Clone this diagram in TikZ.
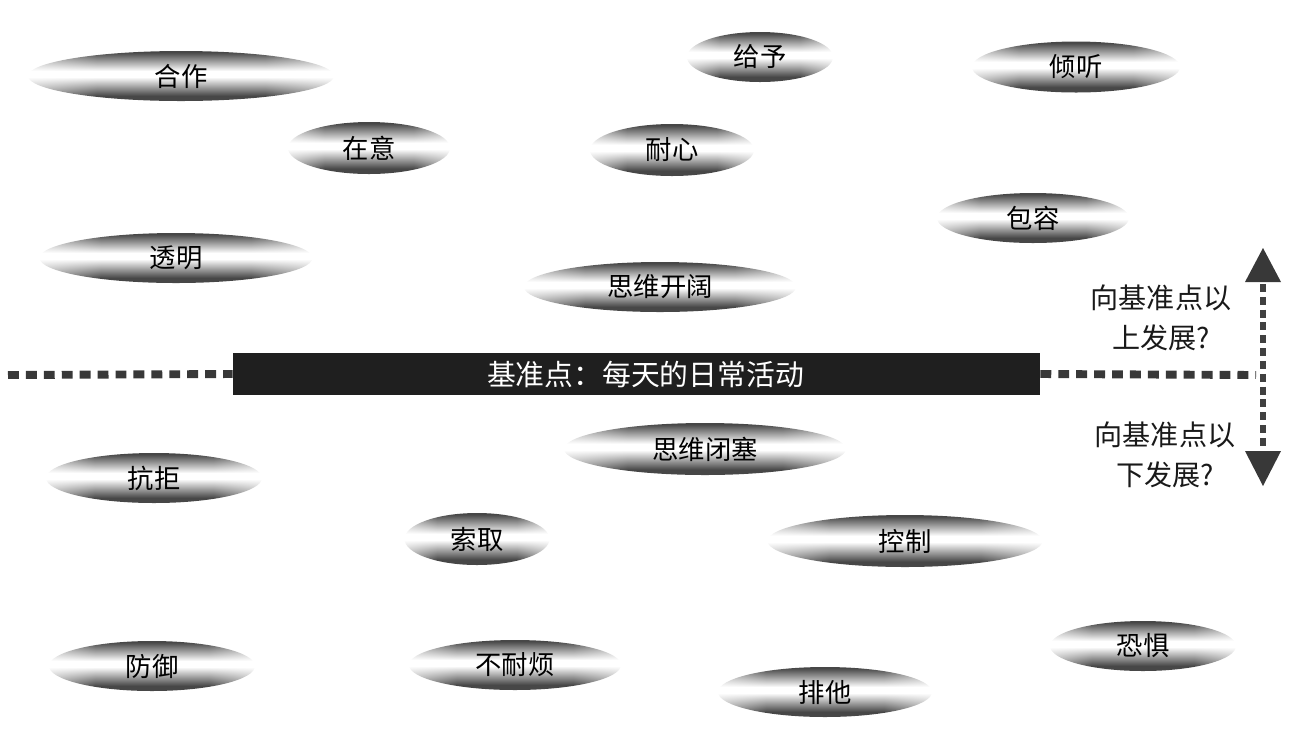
\documentclass[tikz,border=0pt]{standalone}
\usepackage{fontspec}
\setmainfont{Noto Sans CJK SC}
\usetikzlibrary{shapes.geometric}
\pgfdeclarefunctionalshading{ovalshade}{\pgfpoint{-50bp}{-50bp}}{\pgfpoint{50bp}{50bp}}{}{
25 div 0.08 sub abs 0.12 sub 0.75 div
dup 0 lt {pop 0} if dup 1 gt {pop 1} if
0.72 mul 1 exch sub
exch 25 div abs 0.55 sub 0.45 div
dup 0 lt {pop 0} if dup 1 gt {pop 1} if
0.55 mul
1 2 index sub mul add
dup dup
}
\tikzset{
  oval/.style 2 args={ellipse, inner sep=0pt, minimum width=#1*0.02cm, minimum height=#2*0.02cm,
    shading=ovalshade, font=\fontsize{15}{17}\selectfont, text=black},
  basebar/.style={rectangle, inner sep=0pt, fill=black!88, text=white,
    minimum width=807*0.02cm, minimum height=42*0.02cm, font=\fontsize{16.4}{18}\selectfont},
  hdash/.style={line width=4.5pt, black!78, dash pattern=on 6.2pt off 4pt},
  vdash/.style={line width=3.4pt, black!75, dash pattern=on 4.5pt off 2.8pt},
  tip/.style={fill=black!78},
  lbl/.style={align=center, font=\fontsize{16}{22.7}\selectfont, text=black!90}
}
\begin{document}
\begin{tikzpicture}[x=0.02cm,y=-0.02cm]
\useasboundingbox (0,0) rectangle (1296,735);
% ovals above
\node[oval={306}{50}] (hezuo) at (181,76) {合作};
\node[oval={146}{50}] (geiyu) at (760,57) {给予};
\node[oval={208}{51}] (tingting) at (1076,67) {倾听};
\node[oval={162}{52}] (zaiyi) at (369,148) {在意};
\node[oval={164}{52}] (naixin) at (672,150) {耐心};
\node[oval={192}{50}] (baorong) at (1033,218) {包容};
\node[oval={273}{50}] (touming) at (176,258) {透明};
\node[oval={272}{50}] (kaikuo) at (660,287) {思维开阔};
% base line
\node[basebar] (bar) at (636.5,374) {\hspace*{0.36cm}基准点：每天的日常活动};
\coordinate (lend) at (8,375);
\coordinate (rend) at (1256,375);
\draw[hdash] (lend) -- (bar.west);
\draw[hdash] (bar.east) -- (rend);
% vertical arrow
\coordinate (uptip) at (1263,248);
\coordinate (upl) at (1245,282);
\coordinate (upr) at (1281,282);
\coordinate (dntip) at (1263,486);
\coordinate (dnl) at (1245,451);
\coordinate (dnr) at (1281,451);
\coordinate (vtop) at (1263,284);
\coordinate (vbot) at (1263,449);
\draw[vdash] (vtop) -- (vbot);
\fill[tip] (uptip) -- (upl) -- (upr) -- cycle;
\fill[tip] (dntip) -- (dnl) -- (dnr) -- cycle;
\node[lbl] (uplbl) at (1161,318) {向基准点以\\上发展?};
\node[lbl] (dnlbl) at (1165,455) {向基准点以\\下发展?};
% ovals below
\node[oval={282}{52}] (bisai) at (705,449) {思维闭塞};
\node[oval={216}{50}] (kangju) at (154,478) {抗拒};
\node[oval={145}{52}] (suoqu) at (477,539) {索取};
\node[oval={275}{52}] (kongzhi) at (905,541) {控制};
\node[oval={206}{50}] (fangyu) at (152,666) {防御};
\node[oval={212}{50}] (bunaifan) at (515,665) {不耐烦};
\node[oval={214}{50}] (paita) at (825,692) {排他};
\node[oval={186}{50}] (kongju) at (1143,646) {恐惧};
\end{tikzpicture}
\end{document}
